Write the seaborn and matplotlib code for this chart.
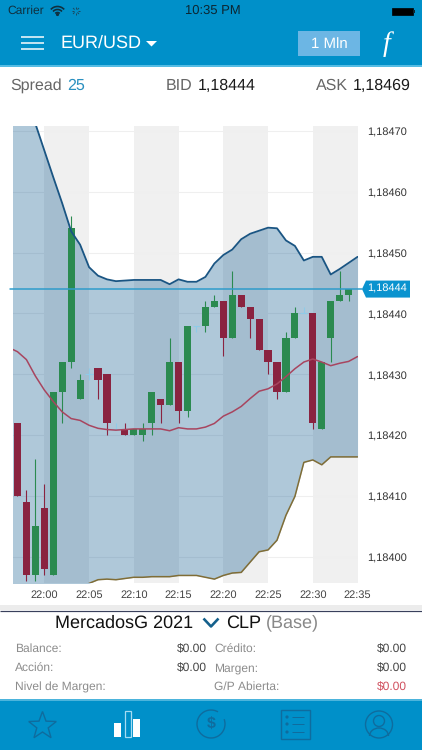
import numpy as np
import pandas as pd
import seaborn as sns
import matplotlib
matplotlib.use("Agg")
import matplotlib.pyplot as plt
from matplotlib.patches import Rectangle, Polygon, Circle, Arc
from matplotlib.transforms import ScaledTranslation

# ---------- data ----------
candle_minutes = list(range(-3, 35))
opens  = [1.18422,1.18409,1.18397,1.18408,1.18397,1.18427,1.18432,1.18426,1.18430,1.18431,
          1.18430,1.18421,1.18421,1.18420,1.18420,1.18422,1.18426,1.18425,1.18432,1.18424,
          1.18438,1.18438,1.18441,1.18442,1.18436,1.18443,1.18441,1.18439,1.18434,1.18432,
          1.18427,1.18436,1.18440,1.18440,1.18421,1.18436,1.18442,1.18443]
highs  = [1.18422,1.18411,1.18416,1.18412,1.18427,1.18432,1.18456,1.18430,1.18431,1.18431,
          1.18430,1.18422,1.18422,1.18421,1.18422,1.18427,1.18426,1.18436,1.18432,1.18438,
          1.18438,1.18442,1.18443,1.18442,1.18447,1.18443,1.18441,1.18439,1.18434,1.18432,
          1.18437,1.18441,1.18441,1.18440,1.18432,1.18442,1.18447,1.18444]
lows   = [1.18410,1.18396,1.18396,1.18397,1.18397,1.18422,1.18431,1.18426,1.18429,1.18426,
          1.18420,1.18421,1.18420,1.18420,1.18419,1.18420,1.18422,1.18425,1.18422,1.18423,
          1.18437,1.18437,1.18441,1.18433,1.18436,1.18441,1.18436,1.18434,1.18430,1.18426,
          1.18427,1.18436,1.18440,1.18421,1.18421,1.18432,1.18442,1.18442]
closes = [1.18410,1.18397,1.18405,1.18398,1.18427,1.18432,1.18454,1.18429,1.18430,1.18429,
          1.18422,1.18421,1.18420,1.18421,1.18421,1.18427,1.18425,1.18432,1.18424,1.18438,
          1.18438,1.18441,1.18442,1.18436,1.18443,1.18441,1.18439,1.18434,1.18432,1.18427,
          1.18436,1.18440,1.18440,1.18422,1.18432,1.18442,1.18443,1.18444]

band_minutes = list(range(-4, 36))
upper = [1.184843,1.184799,1.184755,1.184712,1.184668,1.184624,1.184581,1.184535,1.184513,1.184476,
         1.184462,1.184456,1.184453,1.184454,1.184455,1.184455,1.184455,1.184455,1.184448,1.184456,
         1.184452,1.184452,1.184460,1.184482,1.184496,1.184505,1.184522,1.184531,1.184536,1.184541,
         1.184540,1.184520,1.184511,1.184487,1.184493,1.184493,1.184464,1.184473,1.184483,1.184493]
middle = [1.184344,1.184337,1.184324,1.184297,1.184274,1.184255,1.184238,1.184227,1.184224,1.184216,
          1.184211,1.184209,1.184208,1.184209,1.184210,1.184210,1.184210,1.184210,1.184207,1.184212,
          1.184210,1.184210,1.184213,1.184219,1.184231,1.184238,1.184247,1.184260,1.184272,1.184276,
          1.184284,1.184296,1.184309,1.184320,1.184325,1.184320,1.184314,1.184318,1.184321,1.184329]
lower = [1.183860,1.183870,1.183880,1.183890,1.183900,1.183910,1.183922,1.183932,1.183942,1.183956,
         1.183962,1.183963,1.183962,1.183964,1.183966,1.183966,1.183967,1.183967,1.183967,1.183969,
         1.183969,1.183969,1.183966,1.183963,1.183969,1.183973,1.183974,1.183991,1.184008,1.184011,
         1.184027,1.184068,1.184099,1.184155,1.184159,1.184151,1.184164,1.184164,1.184164,1.184164]

shade_starts = [0, 10, 20, 30]
shade_length = 5
x_ticks = [0, 5, 10, 15, 20, 25, 30, 35]
x_labels = ["22:00","22:05","22:10","22:15","22:20","22:25","22:30","22:35"]
y_ticks = [1.18400,1.18410,1.18420,1.18430,1.18440,1.18450,1.18460,1.18470]
y_labels = ["1,18400","1,18410","1,18420","1,18430","1,18440","1,18450","1,18460","1,18470"]
last_price = 1.18444
last_label = "1,18444"

# ---------- style ----------
sns.set_theme(style="white")
plt.rcParams["font.family"] = ["Liberation Sans", "DejaVu Sans"]
plt.rcParams["text.hinting"] = "no_hinting"
plt.rcParams["text.hinting_factor"] = 1
W, H = 422, 750
BLUE = "#0090c9"
UP, DOWN, DOJI = "#2b8a50", "#8a2340", "#8fcbe8"
fig = plt.figure(figsize=(W/100, H/100), dpi=100, facecolor="white")

# ---------- app chrome in pixel coordinates ----------
ui = fig.add_axes([0, 0, 1, 1], zorder=0)
ui.set_xlim(0, W); ui.set_ylim(H, 0); ui.axis("off")

def T(x, y, s, px, color="#222222", ha="left", **kw):
    return ui.text(x, y, s, fontsize=px*0.72, color=color, ha=ha, va="center", **kw)
def R(x0, y0, x1, y1, color, **kw):
    ui.add_patch(Rectangle((x0, y0), x1-x0, y1-y0, facecolor=color, edgecolor="none", **kw))
def L(xs, ys, color, lw=1.0, **kw):
    ui.plot(xs, ys, color=color, lw=lw*0.72, solid_capstyle="butt", **kw)

R(0, 0, W, 65, BLUE)
R(0, 65, W, 66.5, "#55bce4")
T(7, 11, "Carrier", 12, "#10303f")
for r in (18, 12, 6):
    ui.add_patch(Arc((57.5, 15.5), r, r, theta1=222, theta2=318, color="#10303f", lw=1.2))
ui.add_patch(Circle((57.5, 14.5), 0.9, color="#10303f"))
for a in np.arange(0, 360, 45):
    ca, sa = np.cos(np.radians(a)), np.sin(np.radians(a))
    L([76+2*ca, 76+4.2*ca], [11+2*sa, 11+4.2*sa], "#1a4a60", 1)
T(212.5, 11, "10:35 PM", 12.5, "#0c2632", ha="center", fontweight="medium")
ui.add_patch(Rectangle((391.5, 8), 21, 7, facecolor="black", edgecolor="black", lw=0.5))
R(413, 10, 415, 13, "#0c2632")
for yy in (36.5, 43, 49):
    L([21, 43.5], [yy, yy], "white", 1.5)
T(61, 43.5, "EUR/USD", 18, "white")
ui.add_patch(Polygon([[146, 41], [157, 41], [151.5, 46.5]], facecolor="white", edgecolor="none"))
R(298, 31, 359.5, 55.5, "#6cb6e4")
T(329, 44, "1 Mln", 15, "white", ha="center")
ui.text(387, 44, "f", fontsize=20, color="white", ha="center", va="center",
        family="Liberation Serif", style="italic")

T(10, 86, "Spread", 16, "#666666")
T(67, 86, "25", 16, "#2a90c0")
T(166, 86, "BID", 16, "#666666")
T(198, 86, "1,18444", 16, "#1a1a1a")
T(316, 86, "ASK", 16, "#666666")
T(353, 86, "1,18469", 16, "#1a1a1a")

R(0, 605, W, 610, "#ececec")
L([0, W], [610.7, 610.7], "#39405c", 1.2)
T(55, 623, "MercadosG 2021", 18.5, "#111111")
L([203.5, 211, 218.5], [618.5, 626.5, 618.5], "#14608c", 2.6)
T(226, 623, "CLP", 18.5, "#111111")
T(266, 623, "(Base)", 18.5, "#888888")

rows = [(649, "Balance:", "$0.00", "Crédito:", "$0.00", "#444444"),
        (668, "Acción:", "$0.00", "Margen:", "$0.00", "#444444"),
        (687, "Nivel de Margen:", "", "G/P Abierta:", "$0.00", "#d0505f")]
for y, a, b, c, d, col in rows:
    T(15, y, a, 12, "#8c8c8c")
    T(207, y, b, 12, "#444444", ha="right")
    T(214, y, c, 12, "#8c8c8c")
    T(407, y, d, 12, col, ha="right")

R(0, 699, W, H, BLUE)
R(0, 699, W, 700.5, "#4cb4dc")
ICON = "#0f6c9e"
star = [[42.5 + (14.5 if i % 2 == 0 else 6)*np.sin(i*np.pi/5),
         726 - (14.5 if i % 2 == 0 else 6)*np.cos(i*np.pi/5)] for i in range(10)]
ui.add_patch(Polygon(star, closed=True, facecolor="none", edgecolor=ICON, lw=1.0))
R(114, 723, 121, 737, "white")
R(133, 719, 140, 737, "white")
ui.add_patch(Rectangle((124.5, 711), 6, 26, facecolor="none", edgecolor="#a5dcf2", lw=0.9))
ui.add_patch(Arc((211, 724), 28, 28, theta1=-20, theta2=300, color=ICON, lw=1.0))
T(211, 724.5, "$", 16, ICON, ha="center", fontweight="bold")
ui.add_patch(Rectangle((280.5, 710), 29, 28.5, facecolor="none", edgecolor=ICON, lw=1.0))
for yy in (717, 724, 732):
    L([292, 304], [yy, yy], ICON, 1)
    ui.add_patch(Circle((287, yy), 0.9, color=ICON))
ui.add_patch(Circle((379, 724.5), 13.5, facecolor="none", edgecolor=ICON, lw=1.0))
ui.add_patch(Circle((379, 721), 5.5, facecolor="none", edgecolor=ICON, lw=1.0))
ui.add_patch(Arc((379, 736), 19, 16, theta1=180, theta2=360, color=ICON, lw=1.0))

# ---------- chart ----------
ax = fig.add_axes([13/W, 1-583/H, 345/W, (583-126)/H], zorder=1)
ax.patch.set_alpha(0)
ax.set_xlim(-3.5, 35.05)
ax.set_ylim(1.1839566, 1.1847082)
for s in ax.spines.values():
    s.set_visible(False)

for start in shade_starts:
    ax.axvspan(start, start+shade_length, color="#f0f0f0", lw=0, zorder=0)

bands = pd.DataFrame({"minute": band_minutes, "upper": upper, "middle": middle, "lower": lower})
ax.fill_between(bands["minute"], bands["lower"], bands["upper"], color="#0c588e", alpha=0.33, lw=0, zorder=1)

candles = pd.DataFrame({"minute": candle_minutes, "open": opens, "high": highs, "low": lows, "close": closes})
for row in candles.itertuples():
    col = UP if row.close > row.open else DOWN if row.close < row.open else DOJI
    ax.vlines(row.minute, row.low, row.high, color=col, lw=0.8, zorder=2)
    if row.close == row.open:
        ax.hlines(row.close, row.minute-0.4, row.minute+0.4, color=col, lw=0.8, zorder=2)
    else:
        ax.bar(row.minute, abs(row.close-row.open), bottom=min(row.open, row.close),
               width=0.8, color=col, lw=0, zorder=2.5)

sns.lineplot(data=bands, x="minute", y="upper", ax=ax, color="#1a5583", lw=1.3, zorder=3, errorbar=None)
sns.lineplot(data=bands, x="minute", y="middle", ax=ax, color="#a8455f", lw=1.1, zorder=3, errorbar=None)
sns.lineplot(data=bands, x="minute", y="lower", ax=ax, color="#806d36", lw=1.1, zorder=3, errorbar=None)
ax.set_xlabel(""); ax.set_ylabel("")
ax.set_xticks(x_ticks, x_labels)
ax.set_yticks(y_ticks, y_labels)
ax.yaxis.tick_right()
ax.grid(axis="y", color="#efefef", lw=0.8)
ax.grid(axis="x", visible=False)
ax.set_axisbelow(True)
ax.tick_params(axis="y", length=0, pad=6.5, labelsize=7.6, labelcolor="#333333")
ax.tick_params(axis="x", length=0, pad=5, labelsize=8, labelcolor="#444444")
down_1px = ScaledTranslation(0, -1/100, fig.dpi_scale_trans)
for lbl in ax.get_yticklabels():
    lbl.set_transform(lbl.get_transform() + down_1px)

ax.axhline(last_price, xmin=-0.009, xmax=1.012, color="#2f9ccb", lw=1.1, zorder=4, clip_on=False)

# current-price tag placed from the chart's own scale
fig.canvas.draw()
yp = H - ax.transData.transform((0, last_price))[1]
ui.add_patch(Polygon([[362, yp], [366, yp-8.5], [410, yp-8.5], [410, yp+8.5], [366, yp+8.5]],
                     facecolor="#0a93cf", edgecolor="none", zorder=5))
ui.text(367.5, yp, last_label, fontsize=7.6, color="white", ha="left", va="center", zorder=6)

fig.savefig("out.png", dpi=100)
